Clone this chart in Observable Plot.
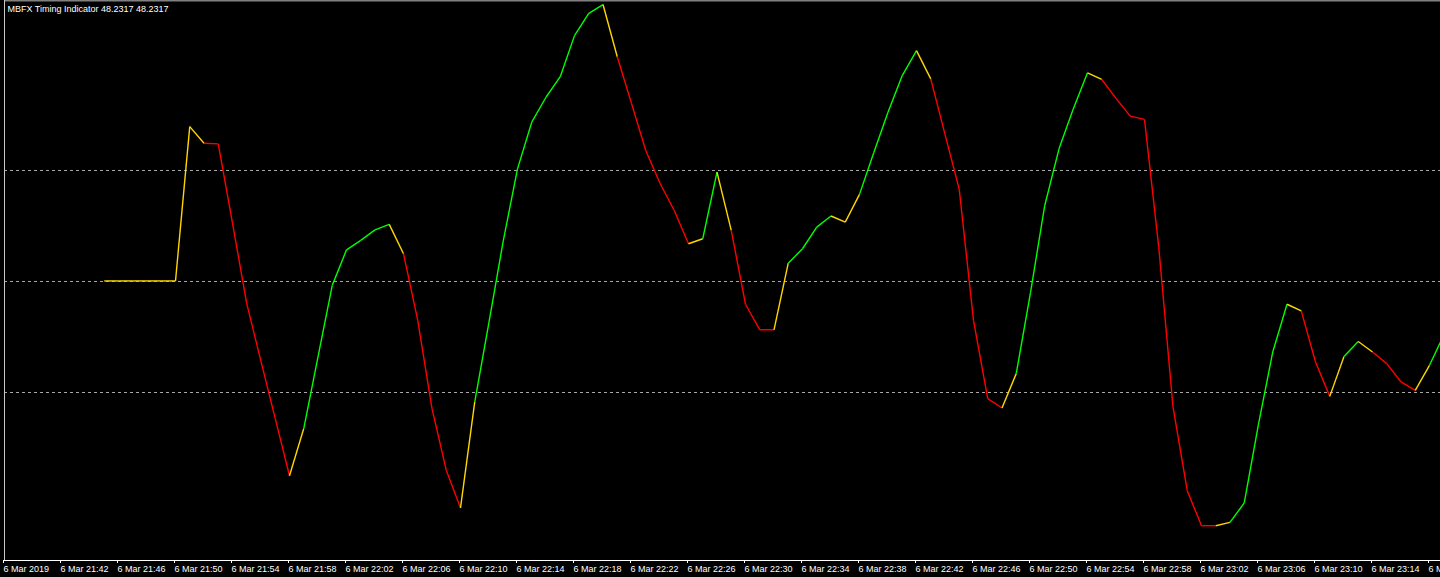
<!DOCTYPE html>
<html>
<head>
<meta charset="utf-8">
<script src="https://cdn.jsdelivr.net/npm/d3@7"></script>
<script src="https://cdn.jsdelivr.net/npm/@observablehq/plot@0.6"></script>
<style>
  html, body { margin: 0; padding: 0; background: #000; }
  #chart { width: 1440px; height: 577px; overflow: hidden; }
</style>
</head>
<body>
<div id="chart"></div>
<script>
// ---- data ----
const titleText = "MBFX Timing Indicator 48.2317 48.2317";
const axisStart = "2019-03-06T21:38:00Z";   // left edge of window
const firstBar = "2019-03-06T21:45:00Z";     // first drawn bar (1-minute bars)
const levels = [30, 50, 70];

// indicator value per 1-minute bar, 21:45 ... 23:19
const values = [
  50.1, 50.1, 50.1, 50.1, 50.1, 50.1, 77.9, 74.9, 74.8, 60.5,
  46.0, 35.6, 25.3, 15.0, 23.5, 36.4, 49.3, 55.7, 57.4, 59.3,
  60.3, 55.0, 43.0, 27.1, 16.0, 9.2, 28.3, 42.7, 57.3, 70.3,
  78.7, 83.2, 86.9, 94.3, 98.3, 99.9, 90.5, 82.1, 73.6, 67.7,
  62.8, 56.8, 57.7, 69.7, 59.2, 45.9, 41.3, 41.3, 53.3, 55.9,
  59.8, 61.8, 60.7, 65.7, 73.2, 80.5, 87.1, 91.6, 86.5, 76.5,
  66.6, 43.0, 28.9, 27.2, 33.4, 48.0, 63.7, 73.9, 81.1, 87.6,
  86.4, 83.0, 79.8, 79.2, 56.2, 27.4, 12.3, 6.0, 6.0, 6.6,
  10.1, 24.3, 37.3, 45.9, 44.7, 35.5, 29.3, 36.5, 39.2, 37.3,
  35.2, 31.9, 30.4, 34.9, 40.3
];

// colour of each segment between consecutive bars: Y = yellow, R = red, G = green
const segmentColors = (
  "YYYYY" + "Y" + "Y" + "R" + "RRRRR" + "Y" + "GGGGGG" + "Y" + "RRRR" + "Y" +
  "GGGGGGGGG" + "Y" + "RRRRR" + "Y" + "G" + "Y" + "RRR" + "Y" + "GGG" + "YY" +
  "GGGG" + "Y" + "RRRRR" + "Y" + "GGGGG" + "Y" + "RRRRRRRR" + "Y" + "GGGG" + "Y" +
  "RR" + "Y" + "G" + "Y" + "RRR" + "Y" + "G"
).split("");

const tickTimes = [
  "21:38","21:42","21:46","21:50","21:54","21:58","22:02","22:06","22:10",
  "22:14","22:18","22:22","22:26","22:30","22:34","22:38","22:42","22:46",
  "22:50","22:54","22:58","23:02","23:06","23:10","23:14","23:18"
];
const tickLabels = [
  "6 Mar 2019","6 Mar 21:42","6 Mar 21:46","6 Mar 21:50","6 Mar 21:54","6 Mar 21:58",
  "6 Mar 22:02","6 Mar 22:06","6 Mar 22:10","6 Mar 22:14","6 Mar 22:18","6 Mar 22:22",
  "6 Mar 22:26","6 Mar 22:30","6 Mar 22:34","6 Mar 22:38","6 Mar 22:42","6 Mar 22:46",
  "6 Mar 22:50","6 Mar 22:54","6 Mar 22:58","6 Mar 23:02","6 Mar 23:06","6 Mar 23:10",
  "6 Mar 23:14","6 Mar 23:18"
];

// ---- build ----
const MIN = 60000;
const t0 = new Date(axisStart);
const tFirst = new Date(firstBar);
const times = values.map((_, i) => new Date(+tFirst + i * MIN));
const segments = segmentColors.map((c, i) => ({
  x1: times[i], y1: values[i], x2: times[i + 1], y2: values[i + 1], c
}));
const tickDates = tickTimes.map(t => new Date(`2019-03-06T${t}:00Z`));
const labelMap = new Map(tickDates.map((d, i) => [+d, tickLabels[i]]));

const W = 1440, H = 577;
const mL = 4, mR = 0, mT = 0, mB = 17;
const pxPerMin = 14.25;
const t1 = new Date(+t0 + ((W - mL - mR) / pxPerMin) * MIN);
const yMin = -0.27, yMax = 100.63;

const chart = Plot.plot({
  width: W,
  height: H,
  marginLeft: mL,
  marginRight: mR,
  marginTop: mT,
  marginBottom: mB,
  style: { background: "#000", color: "#fff", fontFamily: "'Liberation Sans', Arial, sans-serif", fontSize: "9px" },
  x: { type: "utc", domain: [t0, t1], axis: null },
  y: { domain: [yMin, yMax], axis: null },
  color: { domain: ["Y", "R", "G"], range: ["#ffd700", "#ff0000", "#00ff00"] },
  marks: [
    Plot.ruleY(levels, { stroke: "#a8a8a8", strokeDasharray: "3,3", strokeWidth: 1 }),
    Plot.link(segments, {
      x1: "x1", y1: "y1", x2: "x2", y2: "y2", stroke: "c", strokeWidth: 1.4, clip: true
    }),
    Plot.ruleY([yMax], { stroke: "#808080", strokeWidth: 2 }),
    Plot.ruleX([t0], { stroke: "#c8c8c8", strokeWidth: 1 }),
    Plot.ruleY([yMin], { stroke: "#ffffff", strokeWidth: 1 }),
    Plot.axisX(tickDates, {
      anchor: "bottom", tickSize: 3, tickPadding: 2, textAnchor: "start", dx: -1,
      tickFormat: d => labelMap.get(+d), stroke: "#fff", fill: "#fff", fontSize: 9, label: null
    }),
    Plot.text([titleText], {
      frameAnchor: "top-left", dx: 3, dy: 9, text: d => d, textAnchor: "start",
      lineAnchor: "middle", fill: "#fff", fontSize: 9
    })
  ]
});
document.getElementById("chart").appendChild(chart);
</script>
</body>
</html>
